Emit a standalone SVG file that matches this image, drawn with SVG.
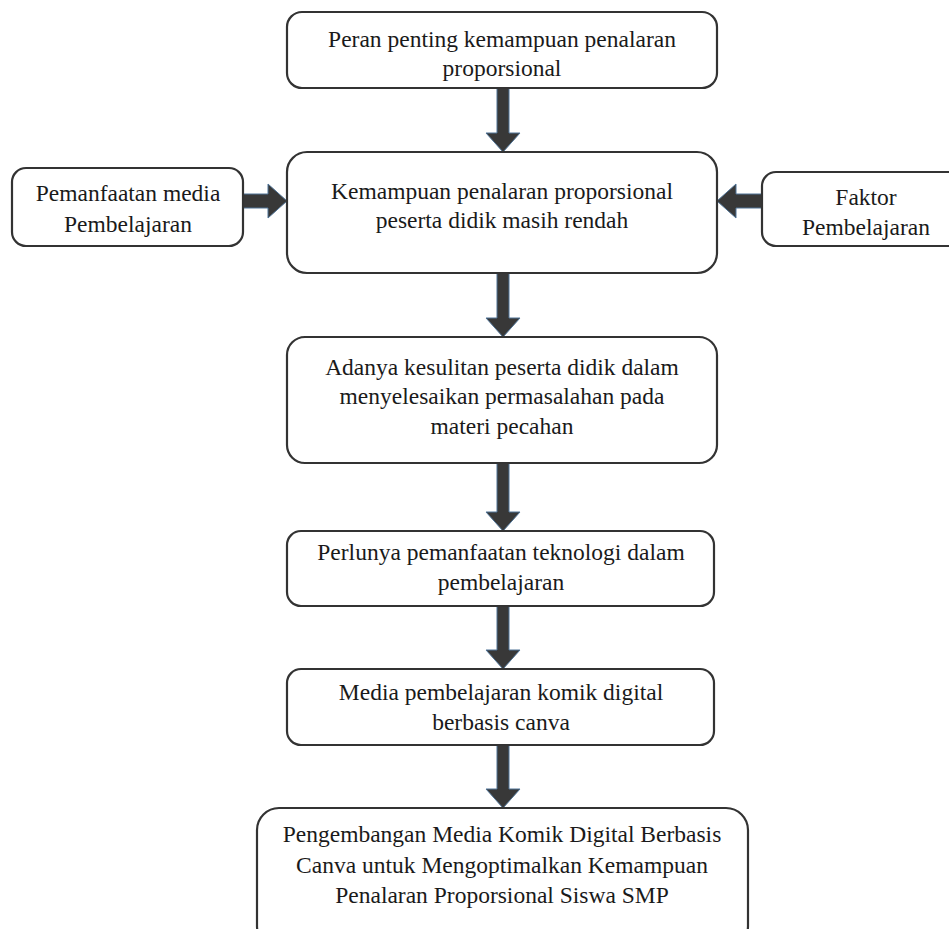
<svg xmlns="http://www.w3.org/2000/svg" width="949" height="929" viewBox="0 0 949 929">
<style>
.box{fill:#fff;stroke:#333;stroke-width:2.2}
.t{font-family:"Liberation Serif","Times New Roman",serif;font-size:23.5px;fill:#1a1a1a;text-anchor:middle}
.arr{fill:#383838;stroke:#4f7396;stroke-width:1}
</style>
<rect width="949" height="929" fill="#fff"/>
<g id="connectors">
<polygon class="arr" points="497,88 509,88 509,133 520,133 503,152 486,133 497,133"/>
<polygon class="arr" points="497,273 509,273 509,318 520,318 503,337 486,318 497,318"/>
<polygon class="arr" points="497,463 509,463 509,512 520,512 503,531 486,512 497,512"/>
<polygon class="arr" points="497,606 509,606 509,650 520,650 503,669 486,650 497,650"/>
<polygon class="arr" points="497,745 509,745 509,789 520,789 503,808 486,789 497,789"/>
<polygon class="arr" points="243,194 268,194 268,184 287,201 268,218 268,208 243,208"/>
<polygon class="arr" points="762,194 736,194 736,184 717,201 736,218 736,208 762,208"/>
</g>
<g id="n1"><rect class="box" x="287" y="12" width="430" height="76" rx="15"/>
<text class="t" x="502" y="47">Peran penting kemampuan penalaran</text>
<text class="t" x="502" y="76">proporsional</text></g>
<g id="n2"><rect class="box" x="287" y="152" width="430" height="121" rx="20"/>
<text class="t" x="502" y="199">Kemampuan penalaran proporsional</text>
<text class="t" x="502" y="228">peserta didik masih rendah</text></g>
<g id="n3"><rect class="box" x="12" y="168" width="231" height="78" rx="14"/>
<text class="t" x="128" y="201">Pemanfaatan media</text>
<text class="t" x="128" y="232">Pembelajaran</text></g>
<g id="n4"><rect class="box" x="762" y="172" width="210" height="74" rx="14"/>
<text class="t" x="866" y="205">Faktor</text>
<text class="t" x="866" y="235">Pembelajaran</text></g>
<g id="n5"><rect class="box" x="287" y="337" width="430" height="126" rx="18"/>
<text class="t" x="502" y="375">Adanya kesulitan peserta didik dalam</text>
<text class="t" x="502" y="404">menyelesaikan permasalahan pada</text>
<text class="t" x="502" y="434">materi pecahan</text></g>
<g id="n6"><rect class="box" x="287" y="531" width="427" height="75" rx="14"/>
<text class="t" x="501" y="560">Perlunya pemanfaatan teknologi dalam</text>
<text class="t" x="501" y="590">pembelajaran</text></g>
<g id="n7"><rect class="box" x="287" y="669" width="427" height="76" rx="14"/>
<text class="t" x="501" y="700">Media pembelajaran komik digital</text>
<text class="t" x="501" y="730">berbasis canva</text></g>
<g id="n8"><rect class="box" x="257" y="808" width="491" height="140" rx="22"/>
<text class="t" x="502" y="842">Pengembangan Media Komik Digital Berbasis</text>
<text class="t" x="502" y="873">Canva untuk Mengoptimalkan Kemampuan</text>
<text class="t" x="502" y="903">Penalaran Proporsional Siswa SMP</text></g>
</svg>
